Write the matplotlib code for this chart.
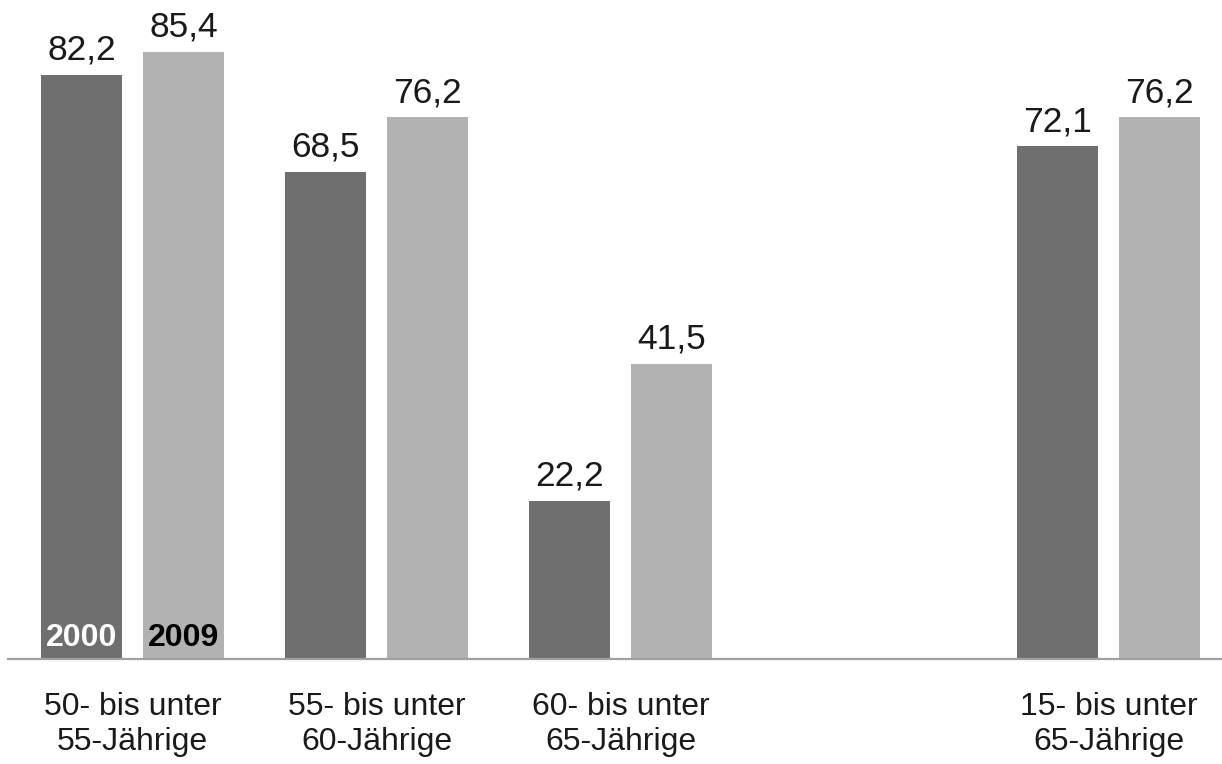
import numpy as np
import matplotlib.pyplot as plt

plt.rcParams['font.family'] = ['Liberation Sans', 'DejaVu Sans']

# Erwerbstaetigenquoten nach Altersgruppe
groups = ['50- bis unter\n55-Jährige', '55- bis unter\n60-Jährige',
          '60- bis unter\n65-Jährige', '15- bis unter\n65-Jährige']
slots = [0, 1, 2, 4]
years = ['2000', '2009']
values_2000 = [82.2, 68.5, 22.2, 72.1]
values_2009 = [85.4, 76.2, 41.5, 76.2]

DARK = '#6f6f6f'
LIGHT = '#b2b2b2'
WIDTH = 0.332
OFFSET = 0.209


def fmt(v):
    return f'{v:.1f}'.replace('.', ',')


fig = plt.figure(figsize=(12.22, 7.64), dpi=100)
ax = fig.add_axes([8 / 1222, 105 / 764, 1214 / 1222, 659 / 764])

x = np.array(slots, dtype=float)
bars_a = ax.bar(x - OFFSET, values_2000, WIDTH, color=DARK)
bars_b = ax.bar(x + OFFSET, values_2009, WIDTH, color=LIGHT)

for bars, vals in ((bars_a, values_2000), (bars_b, values_2009)):
    for b, v in zip(bars, vals):
        ax.annotate(fmt(v), (b.get_x() + b.get_width() / 2, v),
                    xytext=(0, 11), textcoords='offset points',
                    ha='center', va='baseline', fontsize=25.5, color='#1a1a1a')

# Jahreszahlen im ersten Balkenpaar
for b, label, col in ((bars_a[0], years[0], 'white'), (bars_b[0], years[1], 'black')):
    ax.annotate(label, (b.get_x() + b.get_width() / 2, 0),
                xytext=(0, 9), textcoords='offset points',
                ha='center', va='baseline', fontsize=23, fontweight='bold', color=col)

ax.set_xlim(-0.510, 4.465)
ax.set_ylim(0, 92.7)
ax.set_xticks(x, groups)
ax.tick_params(axis='x', length=0, pad=24, labelsize=23, labelcolor='#1a1a1a')
for lbl in ax.get_xticklabels():
    lbl.set_linespacing(1.2)
ax.set_yticks([])
for side in ('top', 'right', 'left'):
    ax.spines[side].set_visible(False)
ax.spines['bottom'].set_color('#a0a0a0')
ax.spines['bottom'].set_linewidth(1.6)

fig.savefig('out.png', dpi=100)
